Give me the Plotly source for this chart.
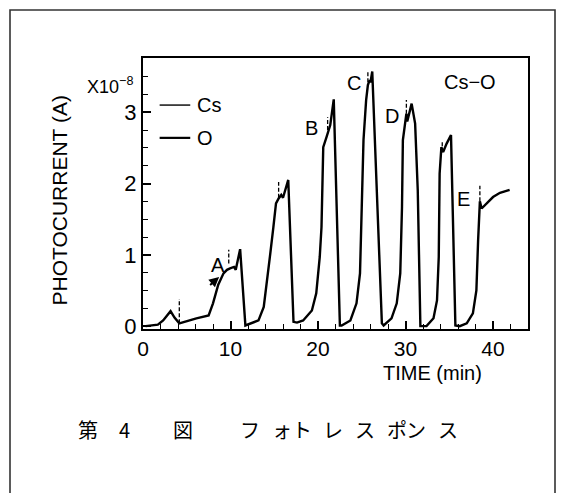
import plotly.graph_objects as go

# ---- data ----
time_min = [0.3, 1.0, 1.7, 2.3, 2.8, 3.15, 3.6, 4.15, 6.1, 7.5, 8.0, 8.6, 9.2, 9.6,
            9.95, 10.4, 10.6, 11.1, 11.7, 12.2, 13.2, 13.8, 14.1, 14.5, 14.9, 15.2,
            15.5, 15.8, 16.0, 16.6, 17.2, 17.6, 18.3, 19.3, 19.8, 20.2, 20.4, 20.5,
            20.6, 21.0, 21.2, 21.4, 21.8, 22.5, 22.7, 23.7, 24.4, 24.8, 25.0, 25.2,
            25.5, 25.7, 25.9, 26.0, 26.2, 27.3, 27.5, 28.4, 29.0, 29.4, 29.6, 29.7,
            30.1, 30.2, 30.7, 31.1, 31.4, 31.7, 32.4, 33.2, 33.6, 33.8, 33.9, 34.1,
            34.3, 34.7, 35.2, 35.7, 36.2, 37.0, 37.7, 38.1, 38.3, 38.5, 38.7, 39.3,
            40.0, 40.8, 41.9]
photocurrent = [0.0, 0.01, 0.02, 0.08, 0.15, 0.21, 0.12, 0.04, 0.11, 0.15, 0.32, 0.58, 0.74, 0.79,
                0.81, 0.83, 0.79, 1.08, 0.01, 0.03, 0.08, 0.27, 0.55, 0.97, 1.39, 1.72,
                1.79, 1.84, 1.80, 2.05, 0.06, 0.05, 0.08, 0.22, 0.46, 0.97, 1.39, 2.14,
                2.51, 2.66, 2.75, 2.82, 3.18, 0.01, 0.01, 0.08, 0.32, 0.74, 1.67, 2.61,
                3.17, 3.38, 3.45, 3.42, 3.57, 0.04, 0.01, 0.11, 0.32, 0.74, 1.67, 2.61,
                2.98, 2.87, 3.12, 2.84, 1.91, 0.0, 0.0, 0.11, 0.36, 0.97, 2.14, 2.51,
                2.44, 2.56, 2.68, 0.01, 0.0, 0.04, 0.18, 0.50, 1.21, 1.75, 1.65, 1.72,
                1.81, 1.87, 1.91]

cs_mark_x = [4.15, 9.8, 15.5, 21.1, 25.7, 30.1, 34.2, 38.5]
cs_mark_lo = [0.04, 0.88, 1.80, 2.75, 3.42, 2.98, 2.44, 1.75]
cs_mark_hi = [0.38, 1.07, 2.02, 2.93, 3.58, 3.17, 2.60, 1.97]

point_labels = ["A", "B", "C", "D", "E"]
label_x = [8.6, 19.3, 24.1, 28.4, 36.6]
label_y = [0.86, 2.78, 3.41, 2.95, 1.78]

x_ticks = [0, 10, 20, 30, 40]
y_ticks = [0, 1, 2, 3]
legend_names = ["Cs", "O"]
legend_y = [3.10, 2.64]
caption_chars = ["第", "4", "図", "フ", "ォ", "ト", "レ", "ス", "ポ", "ン", "ス"]
caption_px = [76, 117, 171, 238, 270, 302, 333, 365, 397, 428, 460]

FONT = "Liberation Sans, Arial, sans-serif"
W, H = 561, 493
L, R, T, B = 143, 33, 58, 164
PW, PH = W - L - R, H - T - B

def px2paper(px, py):
    return (px - L) / PW, (H - B - py) / PH

fig = go.Figure()

fig.add_trace(go.Scatter(x=time_min, y=photocurrent, mode="lines",
                         line=dict(color="black", width=2.4), showlegend=False,
                         hoverinfo="skip"))

mx, my = [], []
for x0, lo, hi in zip(cs_mark_x, cs_mark_lo, cs_mark_hi):
    mx += [x0, x0, None]
    my += [lo, hi, None]
fig.add_trace(go.Scatter(x=mx, y=my, mode="lines",
                         line=dict(color="black", width=1.3, dash="4px,2px"),
                         showlegend=False, hoverinfo="skip"))

annotations = []
for t, xv, yv in zip(point_labels, label_x, label_y):
    annotations.append(dict(x=xv, y=yv, xref="x", yref="y", text=t, showarrow=False,
                            font=dict(family=FONT, size=20, color="black")))
annotations.append(dict(x=37.4, y=3.43, xref="x", yref="y", text="Cs−O", showarrow=False,
                        font=dict(family=FONT, size=20, color="black")))
# arrow near A
annotations.append(dict(x=8.7, y=0.69, ax=7.5, ay=0.56, xref="x", yref="y",
                        axref="x", ayref="y", text="", showarrow=True,
                        arrowhead=2, arrowsize=1, arrowwidth=2, arrowcolor="black"))
# legend
shapes = []
widths = [1.4, 2.2]
for name, yv, w in zip(legend_names, legend_y, widths):
    shapes.append(dict(type="line", xref="x", yref="y", x0=1.9, x1=5.4, y0=yv, y1=yv,
                       line=dict(color="black", width=w)))
    annotations.append(dict(x=5.9, y=yv, xref="x", yref="y", text=name, showarrow=False,
                            xanchor="left", font=dict(family=FONT, size=20, color="black")))

# axis titles and multiplier
ax_, ay_ = px2paper(45, 201)
annotations.append(dict(x=ax_, y=ay_, xref="paper", yref="paper", text="PHOTOCURRENT (A)",
                        textangle=-90, showarrow=False,
                        font=dict(family=FONT, size=21, color="black")))
ax_, ay_ = px2paper(135, 72)
annotations.append(dict(x=ax_, y=ay_, xref="paper", yref="paper", text="X10<sup>−8</sup>",
                        xanchor="right", showarrow=False,
                        font=dict(family=FONT, size=18, color="black")))
ax_, ay_ = px2paper(484, 386)
annotations.append(dict(x=ax_, y=ay_, xref="paper", yref="paper", text="TIME (min)",
                        showarrow=False, font=dict(family=FONT, size=20, color="black")))
# caption
for ch, cx in zip(caption_chars, caption_px):
    ax_, ay_ = px2paper(cx, 446)
    annotations.append(dict(x=ax_, y=ay_, xref="paper", yref="paper", text=ch,
                            showarrow=False,
                            font=dict(family="Noto Sans CJK JP", size=20, color="black")))

# outer border
bx0, by0 = px2paper(10, 505)
bx1, by1 = px2paper(555, 10)
shapes.append(dict(type="rect", xref="paper", yref="paper", x0=bx0, x1=bx1, y0=by0, y1=by1,
                   line=dict(color="#333", width=1.6), layer="below"))

fig.update_layout(
    width=W, height=H,
    margin=dict(l=L, r=R, t=T, b=B),
    paper_bgcolor="white", plot_bgcolor="white",
    showlegend=False,
    annotations=annotations, shapes=shapes,
    xaxis=dict(range=[0, 44], tickvals=x_ticks, ticktext=[str(v) for v in x_ticks],
               ticks="inside", ticklen=8, tickwidth=1.5, tickcolor="black",
               minor=dict(dtick=2, ticks="inside", ticklen=5, tickwidth=1.3, tickcolor="black"),
               showgrid=False, zeroline=False, showline=True, linewidth=2.2,
               linecolor="black", mirror=True,
               tickfont=dict(family=FONT, size=21, color="black")),
    yaxis=dict(range=[-0.04, 3.76], tickvals=y_ticks, ticktext=[str(v) for v in y_ticks],
               ticks="inside", ticklen=8, tickwidth=1.5, tickcolor="black",
               minor=dict(dtick=0.25, ticks="inside", ticklen=5, tickwidth=1.3, tickcolor="black"),
               showgrid=False, zeroline=False, showline=True, linewidth=2.2,
               linecolor="black", mirror=True,
               tickfont=dict(family=FONT, size=22, color="black")),
)

fig.write_html("out.html", config={"displayModeBar": False},
               post_script="document.body.style.margin='0';document.body.style.overflow='hidden';")
